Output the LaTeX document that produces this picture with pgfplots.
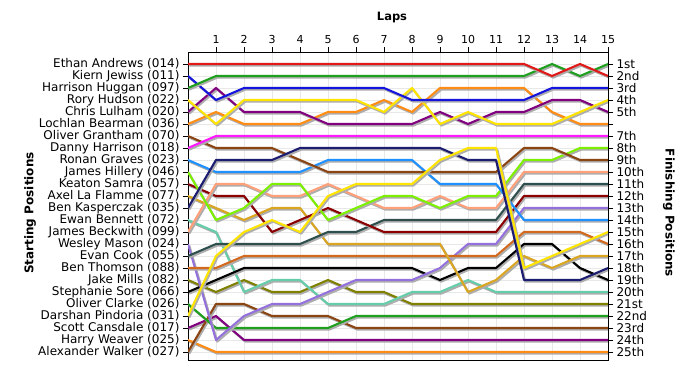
\documentclass[border=0pt]{standalone}
\usepackage{pgfplots}
\pgfplotsset{compat=1.18}
\usepackage{pgfplotstable}
\usepackage{fontspec}
\setmainfont{DejaVu Sans}
\definecolor{cRed}{RGB}{225,25,25}
\definecolor{cGreen}{RGB}{30,160,30}
\definecolor{cBlue}{RGB}{20,20,220}
\definecolor{cYellow}{RGB}{255,228,0}
\definecolor{cPurple}{RGB}{128,0,128}
\definecolor{cOrange}{RGB}{255,140,20}
\definecolor{cMagenta}{RGB}{255,25,255}
\definecolor{cBrown}{RGB}{139,69,19}
\definecolor{cNavy}{RGB}{28,28,112}
\definecolor{cLBlue}{RGB}{30,144,255}
\definecolor{cLGreen}{RGB}{124,240,0}
\definecolor{cDRed}{RGB}{139,0,0}
\definecolor{cSalmon}{RGB}{255,160,122}
\definecolor{cGold}{RGB}{218,165,32}
\definecolor{cAqua}{RGB}{102,205,170}
\definecolor{cSlate}{RGB}{47,79,79}
\definecolor{cChoc}{RGB}{210,105,30}
\definecolor{cMPurple}{RGB}{147,112,219}
\definecolor{cOlive}{RGB}{128,128,0}
\pgfplotstableread{
lap red green blue yellow purple orange magenta brown navy lblue lgreen dred gold aqua salmon mpurple dslate choc olive black greenB yellowB purpleB orangeB brownB
0  1 3 2 4 5 6 8 7 13 9 10 11 12 14 15 16 17 18 19 20 21 22 23 24 25
1  1 2 4 6 3 5 7 8 9 10 14 12 13 15 11 24 16 18 20 19 23 17 22 25 21
2  1 2 3 4 5 6 7 8 9 10 13 12 14 20 11 22 16 17 19 18 23 15 24 25 21
3  1 2 3 4 5 6 7 8 9 10 11 15 13 19 12 21 16 17 20 18 23 14 24 25 22
4  1 2 3 4 5 6 7 9 8 10 11 14 13 19 12 21 16 17 20 18 23 15 24 25 22
5  1 2 3 4 6 5 7 10 8 9 14 13 16 21 11 20 15 17 19 18 23 12 24 25 22
6  1 2 3 4 6 5 7 10 8 9 13 14 16 21 12 19 15 17 20 18 22 11 24 25 23
7  1 2 3 5 6 4 7 10 8 9 12 15 16 21 13 19 14 17 20 18 22 11 24 25 23
8  1 2 4 3 6 5 7 10 8 9 12 15 16 20 13 19 14 17 21 18 22 11 24 25 23
9  1 2 4 6 5 3 7 10 8 11 13 15 16 20 12 18 14 17 21 19 22 9 24 25 23
10 1 2 4 5 6 3 7 10 9 11 12 15 20 19 13 16 14 17 21 18 22 8 24 25 23
11 1 2 4 6 5 3 7 10 9 11 12 15 19 20 13 16 14 17 21 18 22 8 24 25 23
12 1 2 4 6 5 3 7 8 19 14 9 12 17 20 10 13 11 15 21 16 22 18 24 25 23
13 2 1 3 6 4 5 7 8 19 14 9 12 18 20 10 13 11 15 21 16 22 17 24 25 23
14 1 2 3 5 4 6 7 9 19 14 8 12 17 20 10 13 11 15 21 18 22 16 24 25 23
15 2 1 3 4 5 6 7 9 18 14 8 12 17 20 10 13 11 16 21 19 22 15 24 25 23
}\laps
\pgfplotsset{
  shadowed/.style={no marks, line width=2.1pt, line join=round,
    preaction={draw=black!32, transform canvas={shift={(1.3pt,-1.6pt)}}}},
  lapbase/.style={
    at={(188pt,15pt)}, anchor=south west,
    scale only axis, width=420pt, height=308pt,
    xmin=0, xmax=15, ymin=0, ymax=25.667, y dir=reverse,
    ytick={1,...,25},
    tick align=outside, major tick length=5pt,
    tick style={black, thin},
    xticklabel style={font=\fontsize{11}{12}\selectfont},
    yticklabel style={font=\fontsize{12}{12}\selectfont},
    /pgf/number format/assume math mode=true,
  }
}
\begin{document}
\begin{tikzpicture}
\path[use as bounding box, fill=white] (0,0) rectangle (700pt,375pt);
\begin{axis}[lapbase,
  axis line style={black, line width=0.9pt},
  xtick={1,...,15},
  xtick pos=upper, xticklabel pos=upper,
  ytick pos=left, yticklabel pos=left,
  xmajorgrids, ymajorgrids,
  major grid style={gray!18, line width=0.6pt},
  yticklabels={{Ethan Andrews (014)},{Kiern Jewiss (011)},{Harrison Huggan (097)},{Rory Hudson (022)},{Chris Lulham (020)},{Lochlan Bearman (036)},{Oliver Grantham (070)},{Danny Harrison (018)},{Ronan Graves (023)},{James Hillery (046)},{Keaton Samra (057)},{Axel La Flamme (077)},{Ben Kasperczak (035)},{Ewan Bennett (072)},{James Beckwith (099)},{Wesley Mason (024)},{Evan Cook (055)},{Ben Thomson (088)},{Jake Mills (082)},{Stephanie Sore (066)},{Oliver Clarke (026)},{Darshan Pindoria (031)},{Scott Cansdale (017)},{Harry Weaver (025)},{Alexander Walker (027)}},
]
\addplot[shadowed, cOrange] table[x=lap,y=orangeB]{\laps};
\addplot[shadowed, cPurple] table[x=lap,y=purpleB]{\laps};
\addplot[shadowed, cBrown] table[x=lap,y=brownB]{\laps};
\addplot[shadowed, cGreen] table[x=lap,y=greenB]{\laps};
\addplot[shadowed, cOlive] table[x=lap,y=olive]{\laps};
\addplot[shadowed, cAqua] table[x=lap,y=aqua]{\laps};
\addplot[shadowed, black] table[x=lap,y=black]{\laps};
\addplot[shadowed, cMPurple] table[x=lap,y=mpurple]{\laps};
\addplot[shadowed, cChoc] table[x=lap,y=choc]{\laps};
\addplot[shadowed, cGold] table[x=lap,y=gold]{\laps};
\addplot[shadowed, cSlate] table[x=lap,y=dslate]{\laps};
\addplot[shadowed, cDRed] table[x=lap,y=dred]{\laps};
\addplot[shadowed, cSalmon] table[x=lap,y=salmon]{\laps};
\addplot[shadowed, cLGreen] table[x=lap,y=lgreen]{\laps};
\addplot[shadowed, cLBlue] table[x=lap,y=lblue]{\laps};
\addplot[shadowed, cBrown] table[x=lap,y=brown]{\laps};
\addplot[shadowed, cMagenta] table[x=lap,y=magenta]{\laps};
\addplot[shadowed, cNavy] table[x=lap,y=navy]{\laps};
\addplot[shadowed, cYellow] table[x=lap,y=yellowB]{\laps};
\addplot[shadowed, cOrange] table[x=lap,y=orange]{\laps};
\addplot[shadowed, cPurple] table[x=lap,y=purple]{\laps};
\addplot[shadowed, cYellow] table[x=lap,y=yellow]{\laps};
\addplot[shadowed, cBlue] table[x=lap,y=blue]{\laps};
\addplot[shadowed, cGreen] table[x=lap,y=green]{\laps};
\addplot[shadowed, cRed] table[x=lap,y=red]{\laps};
\end{axis}
\begin{axis}[lapbase,
  axis x line=none,
  axis y line*=right,
  axis line style={black, line width=0.9pt},
  yticklabels={1st,2nd,3rd,4th,5th,{},7th,8th,9th,10th,11th,12th,13th,14th,15th,16th,17th,18th,19th,20th,21st,22nd,23rd,24th,25th},
]
\addplot[draw=none] coordinates {(0,1)};
\end{axis}
\node[font=\bfseries\fontsize{11.5}{12}\selectfont] at (392pt,357pt) {Laps};
\node[font=\bfseries\fontsize{12}{12}\selectfont, rotate=90] at (30pt,162pt) {Starting Positions};
\node[font=\bfseries\fontsize{12}{12}\selectfont, rotate=-90] at (669pt,162pt) {Finishing Positions};
\end{tikzpicture}
\end{document}
